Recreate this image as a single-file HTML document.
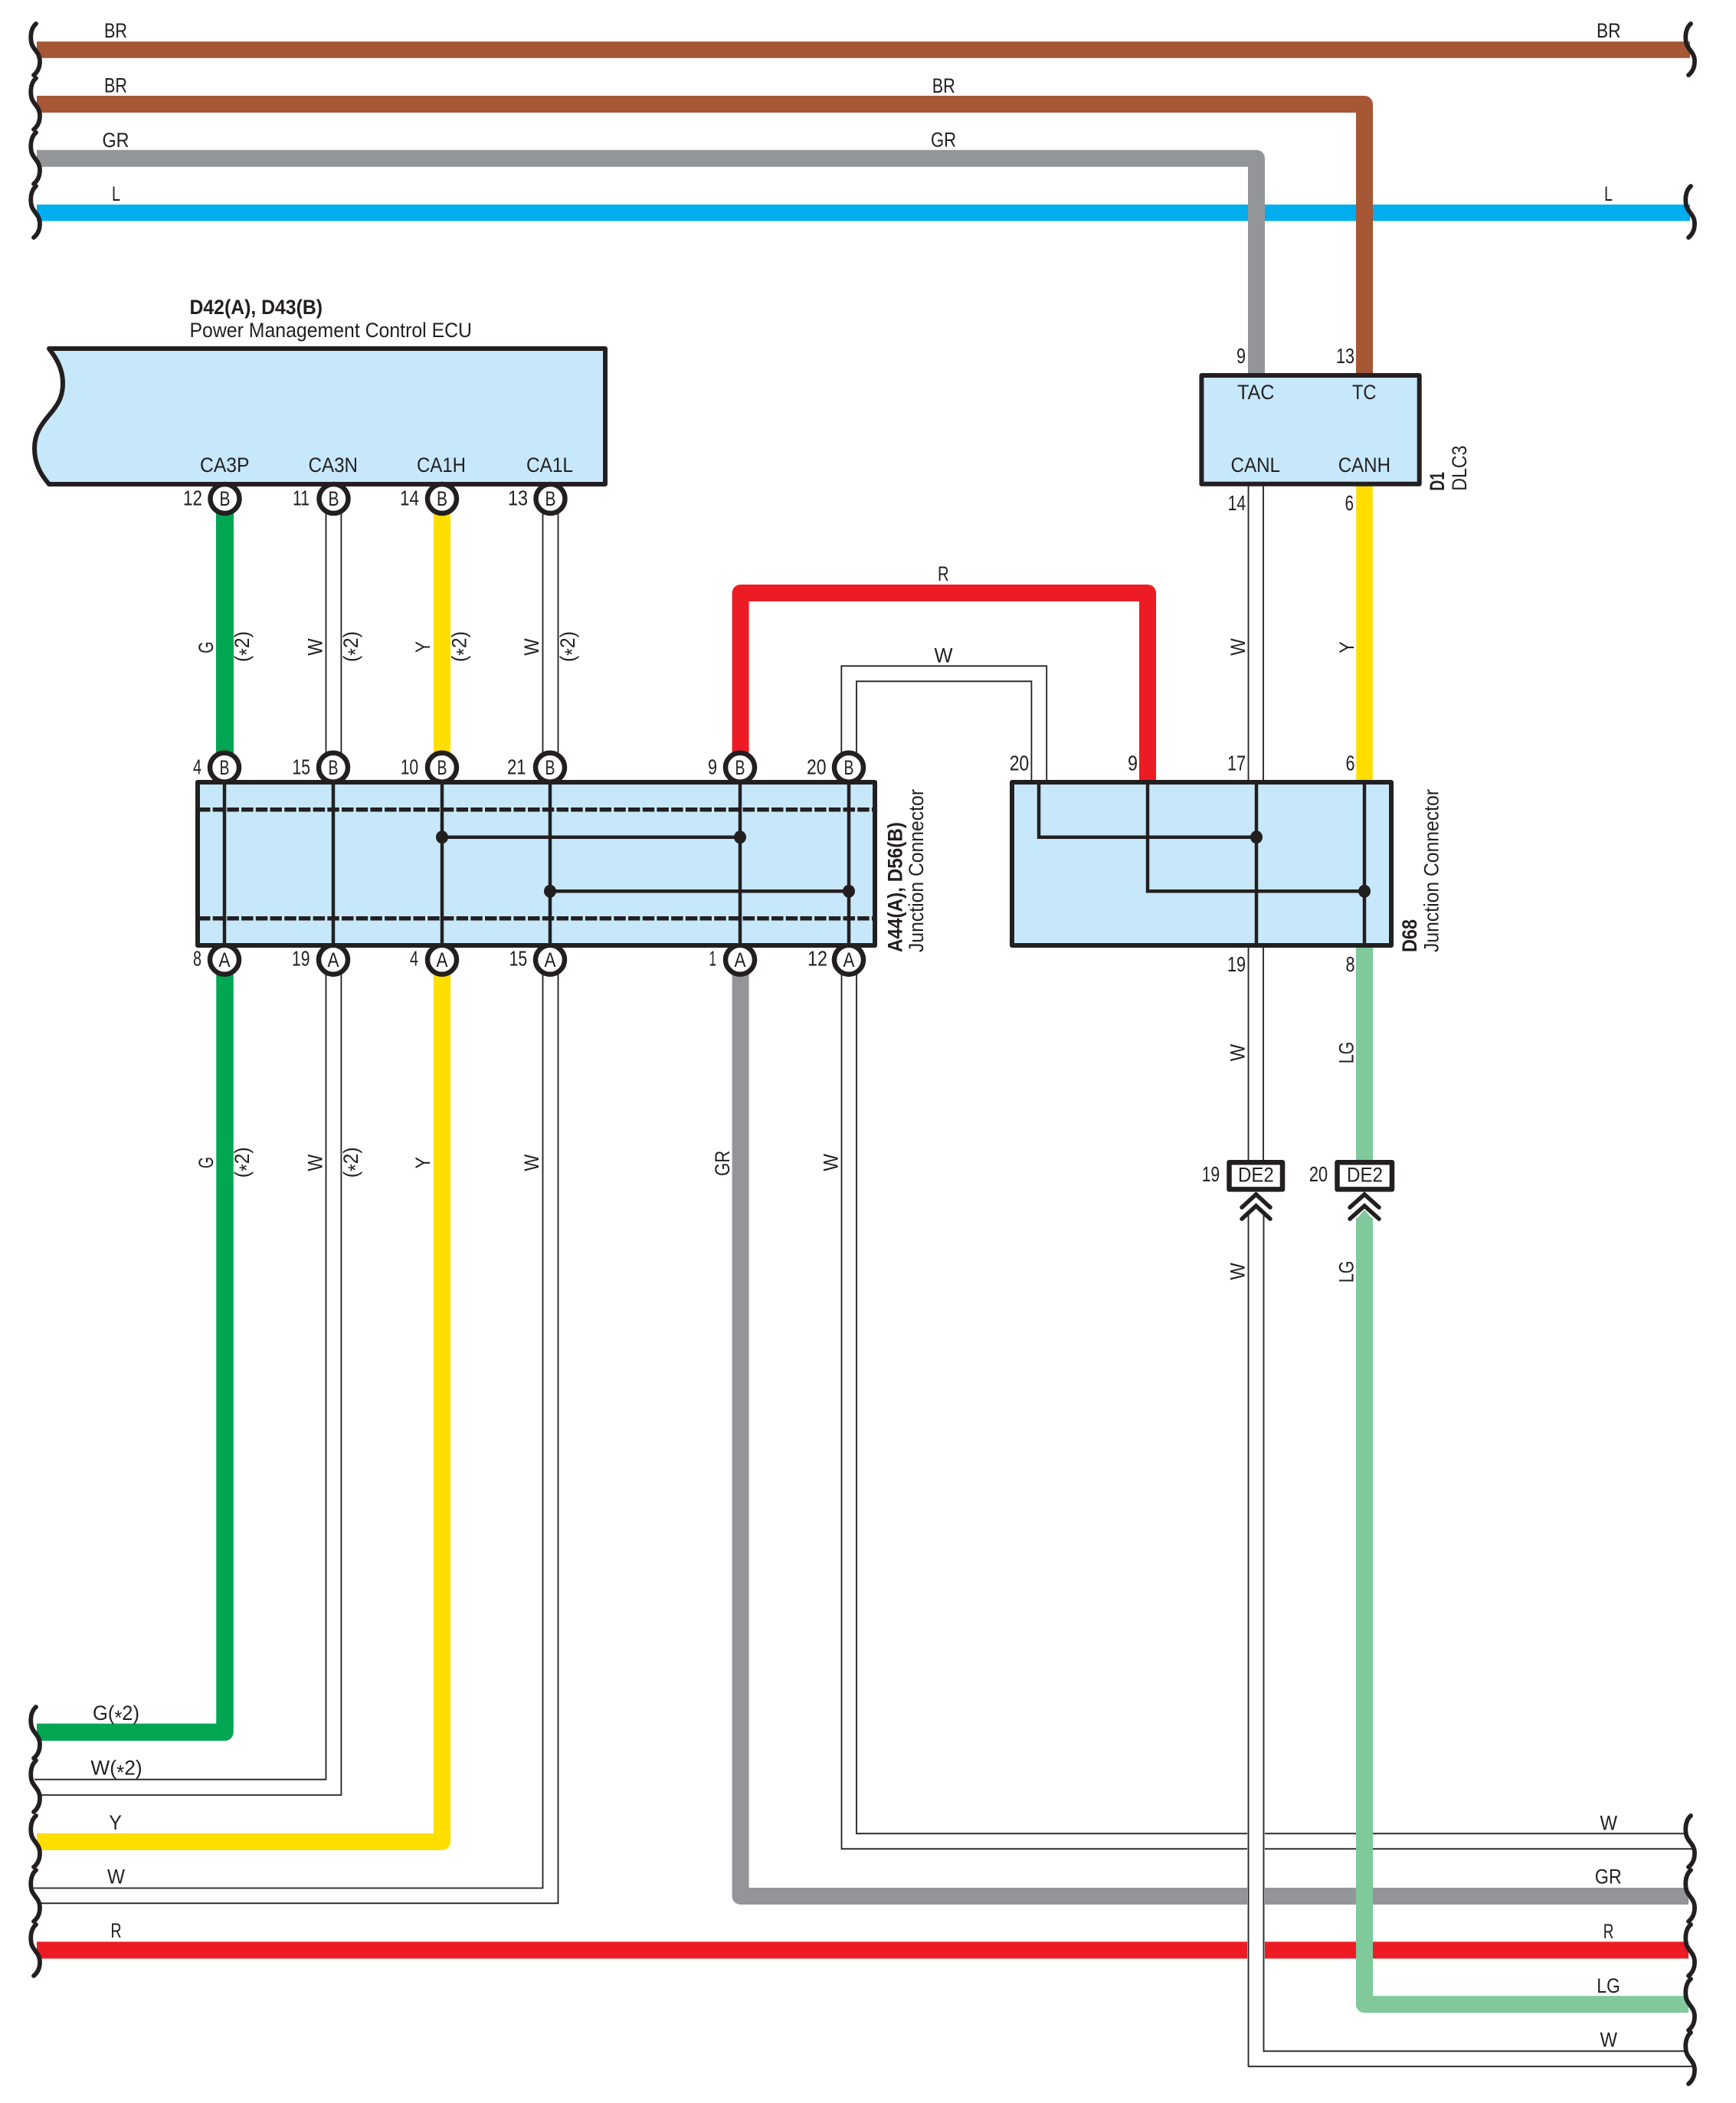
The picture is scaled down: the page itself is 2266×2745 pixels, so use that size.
<!DOCTYPE html>
<html>
<head>
<meta charset="utf-8">
<style>
html,body{margin:0;padding:0;background:#fff}
svg{display:block}
text{font-family:"Liberation Sans",sans-serif;font-size:27px;fill:#231F20}
.n{font-size:28px}
.b{font-weight:bold}
.w{fill:none;stroke-linejoin:round}
.t{fill:none;stroke:#231F20;stroke-width:1.8}
.k{fill:none;stroke:#231F20;stroke-width:4.5}
.box{fill:#C7E8FA;stroke:#231F20;stroke-width:6;stroke-linejoin:round}
.c{fill:#fff;stroke:#231F20;stroke-width:6.5}
.d{fill:none;stroke:#231F20;stroke-width:5.5;stroke-dasharray:15.5 3.2}
.sq{fill:none;stroke:#231F20;stroke-width:5.8;stroke-linecap:round}
.ch{fill:none;stroke:#231F20;stroke-width:5.5;stroke-linecap:round;stroke-linejoin:miter}
</style>
</head>
<body>
<svg xmlns="http://www.w3.org/2000/svg" width="2266" height="2745" viewBox="0 0 2266 2745">
<rect width="2266" height="2745" fill="#fff"/>

<!-- top wires -->
<path class="w" stroke="#A65735" stroke-width="21.5" d="M48,65H2206"/>
<path class="w" stroke="#00AEEF" stroke-width="21.5" d="M48,277.7H2206"/>
<path class="w" stroke="#A65735" stroke-width="22" d="M48,136H1781V490"/>
<path class="w" stroke="#939598" stroke-width="22" d="M48,206.7H1640V490"/>

<!-- ECU to junction -->
<path class="w" stroke="#00A651" stroke-width="23" d="M293.5,655V1000"/>
<path class="w" stroke="#FFDE00" stroke-width="22" d="M577,655V1000"/>
<path class="t" d="M425.5,660V990M445.4,660V990M708.5,660V990M728.5,660V990"/>

<!-- junction lower -->
<path class="w" stroke="#00A651" stroke-width="22.5" d="M293.5,1255V2261H48"/>
<path class="w" stroke="#FFDE00" stroke-width="22" d="M577,1255V2404H48"/>
<path class="w" stroke="#939598" stroke-width="22" d="M966.6,1255V2475H2204"/>
<path class="w" stroke="#ED1C24" stroke-width="22" d="M48,2545.5H2204"/>
<path class="t" d="M425.5,1265V2322.7H45"/>
<path class="t" d="M445.4,1265V2343H52"/>
<path class="t" d="M708.5,1265V2464.5H44"/>
<path class="t" d="M728.5,1265V2484.3H52"/>
<path class="t" d="M1118,1265V2393.3H2199"/>
<path class="t" d="M1098.5,1265V2413.3H2209"/>

<!-- gap around W pair -->
<rect x="1628" y="2380" width="23" height="190" fill="#fff"/>
<path class="t" d="M1649.5,1585V2677.3H2199"/>
<path class="t" d="M1629.5,1585V2697.3H2209"/>

<!-- middle upper wires -->
<path class="w" stroke="#ED1C24" stroke-width="22" d="M966.6,1000V774H1498V1022"/>
<path class="t" d="M1098.3,990V869.3H1366.2V1021"/>
<path class="t" d="M1118,990V889.3H1346.4V1021"/>

<!-- right verticals -->
<path class="t" d="M1629.5,632V1021M1649,632V1021M1629.5,1234V1515M1649,1234V1515"/>
<path class="w" stroke="#FFDE00" stroke-width="21.5" d="M1781,632V1022"/>
<path class="w" stroke="#7FC99B" stroke-width="22" d="M1781,1234V1515"/>
<path class="w" stroke="#7FC99B" stroke-width="22" d="M1781,1590V2616.3H2204"/>
<polygon points="1770,1592 1781,1579 1792,1592" fill="#7FC99B"/>

<!-- squiggles -->
<g class="sq">
<path d="M47,31C41,36 39,46 41,56C43,65 52,68 52,80C52,88 49,94 44,98"/>
<path d="M47,102C41,107 39,117 41,127C43,136 52,139 52,151C52,159 49,165 44,169"/>
<path d="M47,173C41,178 39,188 41,198C43,207 52,210 52,222C52,230 49,236 44,240"/>
<path d="M47,243C41,248 39,258 41,268C43,277 52,280 52,292C52,300 49,306 44,310"/>
<path d="M2207,31C2201,36 2199,46 2201,56C2203,65 2212,68 2212,80C2212,88 2209,94 2204,98"/>
<path d="M2207,243C2201,248 2199,258 2201,268C2203,277 2212,280 2212,292C2212,300 2209,306 2204,310"/>
<path d="M47,2228C41,2233 39,2243 41,2253C43,2262 52,2265 52,2277C52,2285 49,2291 44,2295"/>
<path d="M47,2298C41,2303 39,2313 41,2323C43,2332 52,2335 52,2347C52,2355 49,2361 44,2365"/>
<path d="M47,2370C41,2375 39,2385 41,2395C43,2404 52,2407 52,2419C52,2427 49,2433 44,2437"/>
<path d="M47,2441C41,2446 39,2456 41,2466C43,2475 52,2478 52,2490C52,2498 49,2504 44,2508"/>
<path d="M47,2512C41,2517 39,2527 41,2537C43,2546 52,2549 52,2561C52,2569 49,2575 44,2579"/>
<path d="M2207,2370C2201,2375 2199,2385 2201,2395C2203,2404 2212,2407 2212,2419C2212,2427 2209,2433 2204,2437"/>
<path d="M2207,2441C2201,2446 2199,2456 2201,2466C2203,2475 2212,2478 2212,2490C2212,2498 2209,2504 2204,2508"/>
<path d="M2207,2512C2201,2517 2199,2527 2201,2537C2203,2546 2212,2549 2212,2561C2212,2569 2209,2575 2204,2579"/>
<path d="M2207,2583C2201,2588 2199,2598 2201,2608C2203,2617 2212,2620 2212,2632C2212,2640 2209,2646 2204,2650"/>
<path d="M2207,2653C2201,2658 2199,2668 2201,2678C2203,2687 2212,2690 2212,2702C2212,2710 2209,2716 2204,2720"/>
</g>

<!-- ECU -->
<path class="box" d="M64,455H790V632H64C52,618 45,604 45,585C45,566 54,554 64,542C76,528 82,518 82,500C82,482 74,468 64,455Z"/>

<!-- DLC -->
<rect class="box" x="1568.4" y="490" width="284.3" height="141.7"/>

<!-- terminal circles -->
<g class="c">
<circle cx="293.5" cy="651" r="19"/><circle cx="435.5" cy="651" r="19"/><circle cx="577" cy="651" r="19"/><circle cx="718.5" cy="651" r="19"/>
<circle cx="293" cy="1001.7" r="19"/><circle cx="435" cy="1001.7" r="19"/><circle cx="577" cy="1001.7" r="19"/><circle cx="718" cy="1001.7" r="19"/><circle cx="966" cy="1001.7" r="19"/><circle cx="1108" cy="1001.7" r="19"/>
<circle cx="293" cy="1252.7" r="19"/><circle cx="435" cy="1252.7" r="19"/><circle cx="577" cy="1252.7" r="19"/><circle cx="718" cy="1252.7" r="19"/><circle cx="966" cy="1252.7" r="19"/><circle cx="1108" cy="1252.7" r="19"/>
</g>

<!-- junction boxes -->
<rect class="box" x="258" y="1021" width="884" height="213"/>
<rect class="box" x="1321" y="1021" width="495" height="213"/>
<path class="d" d="M259,1056.7H1140M259,1198.7H1140"/>
<path class="k" d="M293,1021V1234M435,1021V1234M577,1021V1234M718,1021V1234M966,1021V1234M1108,1021V1234"/>
<path class="k" d="M577,1092.7H966M718,1163.3H1108"/>
<path class="k" d="M1356,1021V1092.7H1640M1498,1021V1163.3H1781M1640,1021V1234M1781,1021V1234"/>
<g fill="#231F20">
<ellipse cx="577" cy="1092.7" rx="8" ry="8.5"/><ellipse cx="966" cy="1092.7" rx="8" ry="8.5"/><ellipse cx="718" cy="1163.3" rx="8" ry="8.5"/><ellipse cx="1108" cy="1163.3" rx="8" ry="8.5"/><ellipse cx="1640" cy="1092.7" rx="8" ry="8.5"/><ellipse cx="1781" cy="1163.3" rx="8" ry="8.5"/>
</g>

<!-- DE2 -->
<rect x="1604.5" y="1517.2" width="69.5" height="35.2" fill="#fff" stroke="#231F20" stroke-width="6.5" stroke-linejoin="round"/>
<rect x="1745.5" y="1517.2" width="71.5" height="35.2" fill="#fff" stroke="#231F20" stroke-width="6.5" stroke-linejoin="round"/>
<path class="ch" d="M1621,1576L1639.5,1559L1658,1576M1621,1591L1639.5,1574L1658,1591"/>
<path class="ch" d="M1762,1576L1781,1559L1800,1576M1762,1591L1781,1574L1800,1591"/>

<!-- wire labels: top -->
<text x="136" y="49" textLength="30" lengthAdjust="spacingAndGlyphs">BR</text>
<text x="136" y="120.5" textLength="30" lengthAdjust="spacingAndGlyphs">BR</text>
<text x="133.5" y="192" textLength="35" lengthAdjust="spacingAndGlyphs">GR</text>
<text x="146" y="262" textLength="11" lengthAdjust="spacingAndGlyphs">L</text>
<text x="1216.7" y="121" textLength="30" lengthAdjust="spacingAndGlyphs">BR</text>
<text x="1215" y="191.7" textLength="33" lengthAdjust="spacingAndGlyphs">GR</text>
<text x="2084" y="49" textLength="31.5" lengthAdjust="spacingAndGlyphs">BR</text>
<text x="2094" y="262" textLength="11" lengthAdjust="spacingAndGlyphs">L</text>

<!-- ECU labels -->
<text class="b" x="247.5" y="410" textLength="173.5" lengthAdjust="spacingAndGlyphs">D42(A), D43(B)</text>
<text x="247.5" y="440" textLength="368.5" lengthAdjust="spacingAndGlyphs">Power Management Control ECU</text>
<text x="261" y="616" textLength="64.5" lengthAdjust="spacingAndGlyphs">CA3P</text>
<text x="402.5" y="616" textLength="64.5" lengthAdjust="spacingAndGlyphs">CA3N</text>
<text x="544" y="616" textLength="64" lengthAdjust="spacingAndGlyphs">CA1H</text>
<text x="687" y="616" textLength="61" lengthAdjust="spacingAndGlyphs">CA1L</text>

<!-- pin numbers ECU -->
<text class="n" x="239" y="659.5" textLength="25" lengthAdjust="spacingAndGlyphs">12</text>
<text class="n" x="382" y="659.5" textLength="22" lengthAdjust="spacingAndGlyphs">11</text>
<text class="n" x="522" y="659.5" textLength="25" lengthAdjust="spacingAndGlyphs">14</text>
<text class="n" x="663" y="659.5" textLength="26" lengthAdjust="spacingAndGlyphs">13</text>

<!-- terminal letters -->
<g text-anchor="middle">
<text x="293.5" y="660" textLength="14" lengthAdjust="spacingAndGlyphs">B</text>
<text x="435.5" y="660" textLength="14" lengthAdjust="spacingAndGlyphs">B</text>
<text x="577" y="660" textLength="14" lengthAdjust="spacingAndGlyphs">B</text>
<text x="718.5" y="660" textLength="14" lengthAdjust="spacingAndGlyphs">B</text>
<text x="293" y="1011" textLength="13" lengthAdjust="spacingAndGlyphs">B</text>
<text x="435" y="1011" textLength="13" lengthAdjust="spacingAndGlyphs">B</text>
<text x="577" y="1011" textLength="13" lengthAdjust="spacingAndGlyphs">B</text>
<text x="718" y="1011" textLength="13" lengthAdjust="spacingAndGlyphs">B</text>
<text x="966" y="1011" textLength="13" lengthAdjust="spacingAndGlyphs">B</text>
<text x="1108" y="1011" textLength="13" lengthAdjust="spacingAndGlyphs">B</text>
<text x="293" y="1262" textLength="15" lengthAdjust="spacingAndGlyphs">A</text>
<text x="435" y="1262" textLength="15" lengthAdjust="spacingAndGlyphs">A</text>
<text x="577" y="1262" textLength="15" lengthAdjust="spacingAndGlyphs">A</text>
<text x="718" y="1262" textLength="15" lengthAdjust="spacingAndGlyphs">A</text>
<text x="966" y="1262" textLength="15" lengthAdjust="spacingAndGlyphs">A</text>
<text x="1108" y="1262" textLength="15" lengthAdjust="spacingAndGlyphs">A</text>
</g>

<!-- junction pin numbers -->
<text class="n" x="252" y="1010.7" textLength="11" lengthAdjust="spacingAndGlyphs">4</text>
<text class="n" x="381.5" y="1010.7" textLength="23.5" lengthAdjust="spacingAndGlyphs">15</text>
<text class="n" x="522.7" y="1010.7" textLength="23.5" lengthAdjust="spacingAndGlyphs">10</text>
<text class="n" x="662" y="1010.7" textLength="24.5" lengthAdjust="spacingAndGlyphs">21</text>
<text class="n" x="924" y="1010.7" textLength="12" lengthAdjust="spacingAndGlyphs">9</text>
<text class="n" x="1053" y="1010.7" textLength="25.5" lengthAdjust="spacingAndGlyphs">20</text>
<text class="n" x="252" y="1260.7" textLength="11" lengthAdjust="spacingAndGlyphs">8</text>
<text class="n" x="381" y="1260.7" textLength="23.5" lengthAdjust="spacingAndGlyphs">19</text>
<text class="n" x="535" y="1260.7" textLength="11" lengthAdjust="spacingAndGlyphs">4</text>
<text class="n" x="664.6" y="1260.7" textLength="23.5" lengthAdjust="spacingAndGlyphs">15</text>
<text class="n" x="925.5" y="1260.7" textLength="9.5" lengthAdjust="spacingAndGlyphs">1</text>
<text class="n" x="1054" y="1260.7" textLength="26" lengthAdjust="spacingAndGlyphs">12</text>
<text class="n" x="1317.7" y="1005.7" textLength="25.5" lengthAdjust="spacingAndGlyphs">20</text>
<text class="n" x="1472" y="1005.7" textLength="13" lengthAdjust="spacingAndGlyphs">9</text>
<text class="n" x="1602" y="1005.7" textLength="24" lengthAdjust="spacingAndGlyphs">17</text>
<text class="n" x="1756.5" y="1005.7" textLength="12" lengthAdjust="spacingAndGlyphs">6</text>
<text class="n" x="1602" y="1268" textLength="24" lengthAdjust="spacingAndGlyphs">19</text>
<text class="n" x="1756.5" y="1268" textLength="12" lengthAdjust="spacingAndGlyphs">8</text>

<!-- DLC labels -->
<text class="n" x="1614" y="474" textLength="12" lengthAdjust="spacingAndGlyphs">9</text>
<text class="n" x="1744" y="474" textLength="24" lengthAdjust="spacingAndGlyphs">13</text>
<text x="1615" y="521" textLength="48.5" lengthAdjust="spacingAndGlyphs">TAC</text>
<text x="1765" y="521" textLength="31.5" lengthAdjust="spacingAndGlyphs">TC</text>
<text x="1606.5" y="616" textLength="64.5" lengthAdjust="spacingAndGlyphs">CANL</text>
<text x="1746.7" y="616" textLength="68.3" lengthAdjust="spacingAndGlyphs">CANH</text>
<text class="n" x="1602.6" y="666" textLength="23.5" lengthAdjust="spacingAndGlyphs">14</text>
<text class="n" x="1755.5" y="666" textLength="11.5" lengthAdjust="spacingAndGlyphs">6</text>

<!-- middle labels -->
<text x="1224" y="758" textLength="14.6" lengthAdjust="spacingAndGlyphs">R</text>
<text x="1219.5" y="864.7" textLength="24" lengthAdjust="spacingAndGlyphs">W</text>

<!-- DE2 labels -->
<text x="1616" y="1542.7" textLength="46.7" lengthAdjust="spacingAndGlyphs">DE2</text>
<text x="1758" y="1542.7" textLength="47" lengthAdjust="spacingAndGlyphs">DE2</text>
<text class="n" x="1568.7" y="1542" textLength="23.5" lengthAdjust="spacingAndGlyphs">19</text>
<text class="n" x="1708.7" y="1542" textLength="24.5" lengthAdjust="spacingAndGlyphs">20</text>

<!-- bottom-left labels -->
<text x="121" y="2245" textLength="61" lengthAdjust="spacingAndGlyphs">G(<tspan dy="6">*</tspan><tspan dy="-6">2)</tspan></text>
<text x="118.4" y="2316.4" textLength="67.3" lengthAdjust="spacingAndGlyphs">W(<tspan dy="6">*</tspan><tspan dy="-6">2)</tspan></text>
<text x="142.3" y="2388" textLength="16.7" lengthAdjust="spacingAndGlyphs">Y</text>
<text x="140" y="2458.6" textLength="23" lengthAdjust="spacingAndGlyphs">W</text>
<text x="144.4" y="2529" textLength="14.3" lengthAdjust="spacingAndGlyphs">R</text>

<!-- bottom-right labels -->
<text x="2088.5" y="2388.7" textLength="22.5" lengthAdjust="spacingAndGlyphs">W</text>
<text x="2081.7" y="2458.7" textLength="35" lengthAdjust="spacingAndGlyphs">GR</text>
<text x="2092.8" y="2530" textLength="13.6" lengthAdjust="spacingAndGlyphs">R</text>
<text x="2084.3" y="2601" textLength="30.6" lengthAdjust="spacingAndGlyphs">LG</text>
<text x="2088.5" y="2671.3" textLength="22.5" lengthAdjust="spacingAndGlyphs">W</text>

<!-- rotated labels -->
<text transform="translate(278,852.7) rotate(-90)" textLength="15.4" lengthAdjust="spacingAndGlyphs">G</text>
<text transform="translate(325,864) rotate(-90)" textLength="40" lengthAdjust="spacingAndGlyphs">(<tspan dy="6">*</tspan><tspan dy="-6">2)</tspan></text>
<text transform="translate(420.4,855.7) rotate(-90)" textLength="22.4" lengthAdjust="spacingAndGlyphs">W</text>
<text transform="translate(467,864) rotate(-90)" textLength="40" lengthAdjust="spacingAndGlyphs">(<tspan dy="6">*</tspan><tspan dy="-6">2)</tspan></text>
<text transform="translate(561,852) rotate(-90)" textLength="15" lengthAdjust="spacingAndGlyphs">Y</text>
<text transform="translate(608.5,864) rotate(-90)" textLength="40" lengthAdjust="spacingAndGlyphs">(<tspan dy="6">*</tspan><tspan dy="-6">2)</tspan></text>
<text transform="translate(703,855.7) rotate(-90)" textLength="22.4" lengthAdjust="spacingAndGlyphs">W</text>
<text transform="translate(750,864) rotate(-90)" textLength="40" lengthAdjust="spacingAndGlyphs">(<tspan dy="6">*</tspan><tspan dy="-6">2)</tspan></text>

<text transform="translate(278,1525) rotate(-90)" textLength="15" lengthAdjust="spacingAndGlyphs">G</text>
<text transform="translate(325,1537.3) rotate(-90)" textLength="40" lengthAdjust="spacingAndGlyphs">(<tspan dy="6">*</tspan><tspan dy="-6">2)</tspan></text>
<text transform="translate(420.4,1528.7) rotate(-90)" textLength="22" lengthAdjust="spacingAndGlyphs">W</text>
<text transform="translate(467,1537.3) rotate(-90)" textLength="40" lengthAdjust="spacingAndGlyphs">(<tspan dy="6">*</tspan><tspan dy="-6">2)</tspan></text>
<text transform="translate(561,1525.5) rotate(-90)" textLength="15.5" lengthAdjust="spacingAndGlyphs">Y</text>
<text transform="translate(703,1528.7) rotate(-90)" textLength="22" lengthAdjust="spacingAndGlyphs">W</text>
<text transform="translate(952,1535) rotate(-90)" textLength="33.3" lengthAdjust="spacingAndGlyphs">GR</text>
<text transform="translate(1093.3,1528.7) rotate(-90)" textLength="22.7" lengthAdjust="spacingAndGlyphs">W</text>

<text transform="translate(1625,855.7) rotate(-90)" textLength="22.5" lengthAdjust="spacingAndGlyphs">W</text>
<text transform="translate(1767,852.7) rotate(-90)" textLength="15.5" lengthAdjust="spacingAndGlyphs">Y</text>
<text transform="translate(1624.3,1385.2) rotate(-90)" textLength="22.4" lengthAdjust="spacingAndGlyphs">W</text>
<text transform="translate(1766.7,1388.3) rotate(-90)" textLength="28.6" lengthAdjust="spacingAndGlyphs">LG</text>
<text transform="translate(1624.3,1670.7) rotate(-90)" textLength="22.4" lengthAdjust="spacingAndGlyphs">W</text>
<text transform="translate(1766.7,1674.3) rotate(-90)" textLength="28.6" lengthAdjust="spacingAndGlyphs">LG</text>

<text class="b" transform="translate(1885,640.6) rotate(-90)" textLength="24.6" lengthAdjust="spacingAndGlyphs">D1</text>
<text transform="translate(1914,640.6) rotate(-90)" textLength="59" lengthAdjust="spacingAndGlyphs">DLC3</text>
<text class="b" transform="translate(1177.4,1243) rotate(-90)" textLength="170" lengthAdjust="spacingAndGlyphs">A44(A), D56(B)</text>
<text transform="translate(1205,1243) rotate(-90)" textLength="213" lengthAdjust="spacingAndGlyphs">Junction Connector</text>
<text class="b" transform="translate(1849,1243) rotate(-90)" textLength="43" lengthAdjust="spacingAndGlyphs">D68</text>
<text transform="translate(1877.7,1243) rotate(-90)" textLength="213" lengthAdjust="spacingAndGlyphs">Junction Connector</text>
</svg>
</body>
</html>
